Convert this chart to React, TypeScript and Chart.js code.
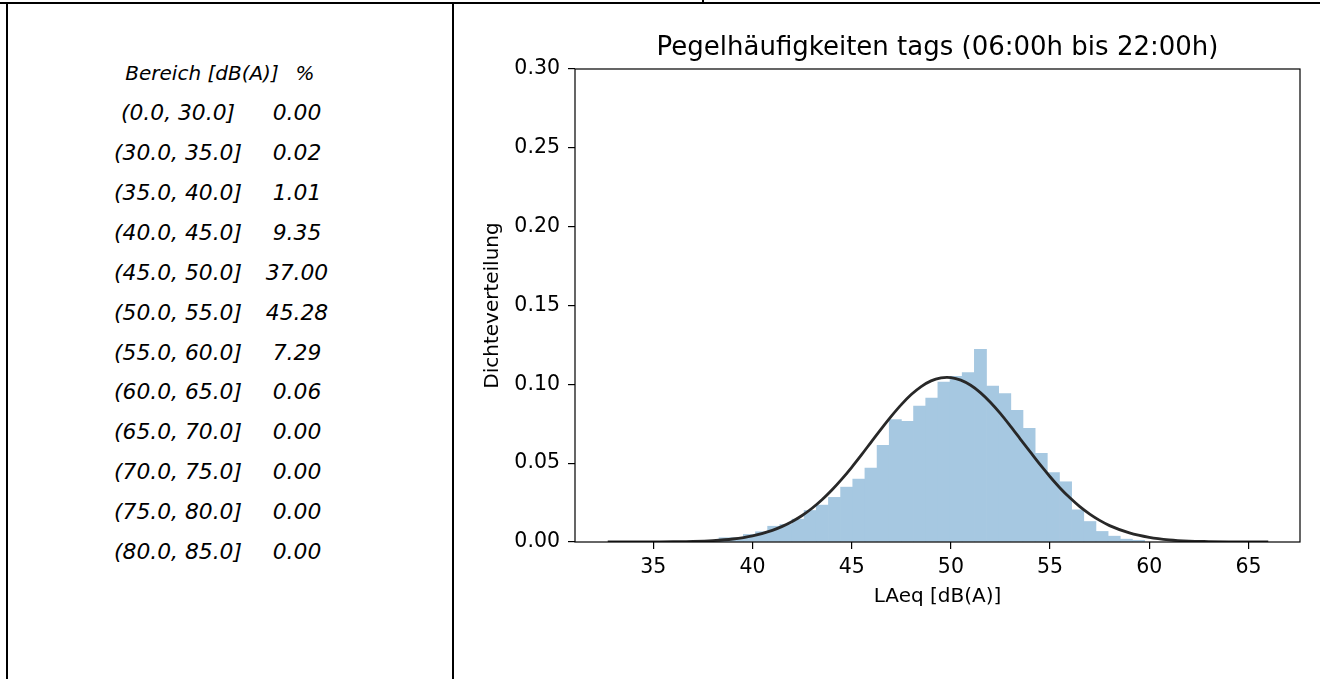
import React, { useEffect, useRef } from "react";
import { Chart, registerables } from "chart.js";

Chart.register(...registerables);

// ---------- data ----------
const rangeLabels = [
  "(0.0, 30.0]", "(30.0, 35.0]", "(35.0, 40.0]", "(40.0, 45.0]",
  "(45.0, 50.0]", "(50.0, 55.0]", "(55.0, 60.0]", "(60.0, 65.0]",
  "(65.0, 70.0]", "(70.0, 75.0]", "(75.0, 80.0]", "(80.0, 85.0]",
];
const rangePercents = [
  "0.00", "0.02", "1.01", "9.35", "37.00", "45.28",
  "7.29", "0.06", "0.00", "0.00", "0.00", "0.00",
];
const tableHeader = ["Bereich [dB(A)]", "%"];

// histogram bin edges (dB) and densities
const binEdges = [
  38.31, 38.923, 39.536, 40.149, 40.762, 41.375, 41.988, 42.601, 43.214, 43.827,
  44.44, 45.053, 45.666, 46.279, 46.892, 47.505, 48.118, 48.731, 49.344, 49.957,
  50.57, 51.183, 51.796, 52.409, 53.022, 53.635, 54.248, 54.861, 55.474, 56.087,
  56.7, 57.313, 57.926, 58.539, 59.152, 59.765,
];
const binDensity = [
  0.0027, 0.0027, 0.0048, 0.0065, 0.0100, 0.0111, 0.0145, 0.0200, 0.0234, 0.0283,
  0.0348, 0.0399, 0.0469, 0.0613, 0.0776, 0.0765, 0.0862, 0.0913, 0.1015, 0.1051,
  0.1074, 0.1222, 0.0989, 0.0941, 0.0835, 0.0721, 0.0562, 0.0441, 0.0382, 0.0204,
  0.0130, 0.0067, 0.0037, 0.0018, 0.0011,
];

// fitted normal curve
const fitX = [
  32.7, 33, 34, 35, 36, 37, 38, 39, 40, 41,
  41.5, 42, 42.5, 43, 43.5, 44, 44.5, 45, 45.5, 46,
  46.5, 47, 47.5, 48, 48.5, 49, 49.5, 49.8, 50, 50.5,
  51, 51.5, 52, 52.5, 53, 53.5, 54, 54.5, 55, 55.5,
  56, 56.5, 57, 57.5, 58, 59, 60, 61, 62, 63,
  64, 65, 66,
];
const fitY = [
  0.0, 0.0, 0.0, 0.0001, 0.0002, 0.0004, 0.0009, 0.0019, 0.0039, 0.0074,
  0.0099, 0.013, 0.0168, 0.0214, 0.0268, 0.033, 0.0399, 0.0474, 0.0554, 0.0637,
  0.0719, 0.0798, 0.0871, 0.0935, 0.0986, 0.1022, 0.1041, 0.1044, 0.1043, 0.1027,
  0.0994, 0.0946, 0.0885, 0.0814, 0.0735, 0.0653, 0.0571, 0.049, 0.0414, 0.0343,
  0.028, 0.0224, 0.0177, 0.0137, 0.0104, 0.0058, 0.003, 0.0014, 0.0006, 0.0003,
  0.0001, 0.0, 0.0,
];

const xTicks = [35, 40, 45, 50, 55, 60, 65];
const xTickLabels = ["35", "40", "45", "50", "55", "60", "65"];
const yTicks = [0, 0.05, 0.1, 0.15, 0.2, 0.25, 0.3];
const yTickLabels = ["0.00", "0.05", "0.10", "0.15", "0.20", "0.25", "0.30"];
const xRange = [31.05, 67.6];
const yRange = [0, 0.3];

const chartTitle = "Pegelhäufigkeiten tags (06:00h bis 22:00h)";
const xTitle = "LAeq [dB(A)]";
const yTitle = "Dichteverteilung";

// ---------- chart ----------
const FONT = "'DejaVu Sans', sans-serif";

const framePlugin = {
  id: "frame",
  afterDatasetsDraw(chart: any) {
    const { ctx, chartArea } = chart;
    ctx.save();
    ctx.strokeStyle = "#000";
    ctx.lineWidth = 1.2;
    ctx.strokeRect(chartArea.left, chartArea.top, chartArea.right - chartArea.left, chartArea.bottom - chartArea.top);
    ctx.restore();
  },
};

function HistChart() {
  const ref = useRef<HTMLCanvasElement | null>(null);
  useEffect(() => {
    if (!ref.current) return;
    const bars = binDensity.map((d, i) => ({ x: (binEdges[i] + binEdges[i + 1]) / 2, y: d }));
    const fit = fitX.map((x, i) => ({ x, y: fitY[i] }));
    const chart = new Chart(ref.current, {
      type: "bar",
      data: {
        datasets: [
          {
            type: "line",
            data: fit,
            borderColor: "#282828",
            borderWidth: 2.8,
            pointRadius: 0,
            cubicInterpolationMode: "monotone",
            fill: false,
            order: 0,
          } as any,
          {
            type: "bar",
            data: bars,
            backgroundColor: "rgb(166,200,225)",
            borderWidth: 0,
            barPercentage: 1,
            categoryPercentage: 1,
            order: 1,
          } as any,
        ],
      },
      options: {
        animation: false,
        responsive: false,
        events: [],
        layout: { padding: { left: 0, right: 20, top: 0, bottom: 67 } },
        plugins: {
          legend: { display: false },
          tooltip: { enabled: false },
          title: {
            display: true,
            text: chartTitle,
            fullSize: false,
            color: "#000",
            font: { family: FONT, size: 26, weight: "normal" },
            padding: { top: 26.4, bottom: 5.4 },
          },
        },
        scales: {
          x: {
            type: "linear",
            min: xRange[0],
            max: xRange[1],
            offset: false,
            afterBuildTicks: (s: any) => {
              s.ticks = xTicks.map((v) => ({ value: v }));
            },
            afterFit: (s: any) => {
              s.height = 70;
            },
            ticks: {
              color: "#000",
              font: { family: FONT, size: 20.5 },
              padding: 6,
              maxRotation: 0,
              autoSkip: false,
              callback: (_v: any, i: number) => xTickLabels[i],
            },
            grid: {
              offset: false,
              drawOnChartArea: false,
              drawTicks: true,
              tickLength: 7,
              color: "#000",
              lineWidth: 1.2,
            },
            border: { display: false },
            title: {
              display: true,
              text: xTitle,
              color: "#000",
              font: { family: FONT, size: 20 },
              padding: { top: 0, bottom: 3 },
            },
          },
          y: {
            type: "linear",
            min: yRange[0],
            max: yRange[1],
            afterBuildTicks: (s: any) => {
              s.ticks = yTicks.map((v) => ({ value: v }));
            },
            afterFit: (s: any) => {
              s.width = 120;
            },
            ticks: {
              color: "#000",
              font: { family: FONT, size: 20.5 },
              padding: 8,
              autoSkip: false,
              callback: (_v: any, i: number) => yTickLabels[i],
            },
            grid: {
              drawOnChartArea: false,
              drawTicks: true,
              tickLength: 7,
              color: "#000",
              lineWidth: 1.2,
            },
            border: { display: false },
            title: {
              display: true,
              text: yTitle,
              color: "#000",
              font: { family: FONT, size: 20 },
              padding: { top: 26, bottom: 0 },
            },
          },
        },
      },
      plugins: [framePlugin],
    });
    return () => chart.destroy();
  }, []);
  return <canvas ref={ref} width={865} height={673} style={{ display: "block" }} />;
}

// ---------- page ----------
const TABLE_FONT = "'DejaVu Sans', sans-serif";

function textAt(text: string, cx: number, cy: number, size: number, key: string) {
  return (
    <div
      key={key}
      style={{
        position: "absolute",
        left: cx,
        top: cy,
        transform: "translate(-50%, -50%)",
        fontFamily: TABLE_FONT,
        fontStyle: "italic",
        fontSize: size,
        lineHeight: 1,
        whiteSpace: "nowrap",
        color: "#000",
      }}
    >
      {text}
    </div>
  );
}

export default function App() {
  const line = (left: number, top: number, width: number, height: number) => ({
    position: "absolute" as const,
    left,
    top,
    width,
    height,
    background: "#000",
  });
  return (
    <div
      style={{
        position: "absolute",
        left: 0,
        top: 0,
        width: 1320,
        height: 679,
        background: "#fff",
        overflow: "hidden",
      }}
    >
      <div style={line(0, 2, 1320, 2)} />
      <div style={line(6, 2, 2, 677)} />
      <div style={line(452, 2, 2, 677)} />
      <div style={line(702, 0, 2, 3)} />
      {textAt(tableHeader[0], 202, 73.3, 20, "h0")}
      {textAt(tableHeader[1], 305, 73.3, 20, "h1")}
      {rangeLabels.map((r, i) => textAt(r, 178, 113 + 39.92 * i, 21.8, "r" + i))}
      {rangePercents.map((p, i) => textAt(p, 297, 113 + 39.92 * i, 21.8, "p" + i))}
      <div style={{ position: "absolute", left: 455, top: 6 }}>
        <HistChart />
      </div>
    </div>
  );
}
